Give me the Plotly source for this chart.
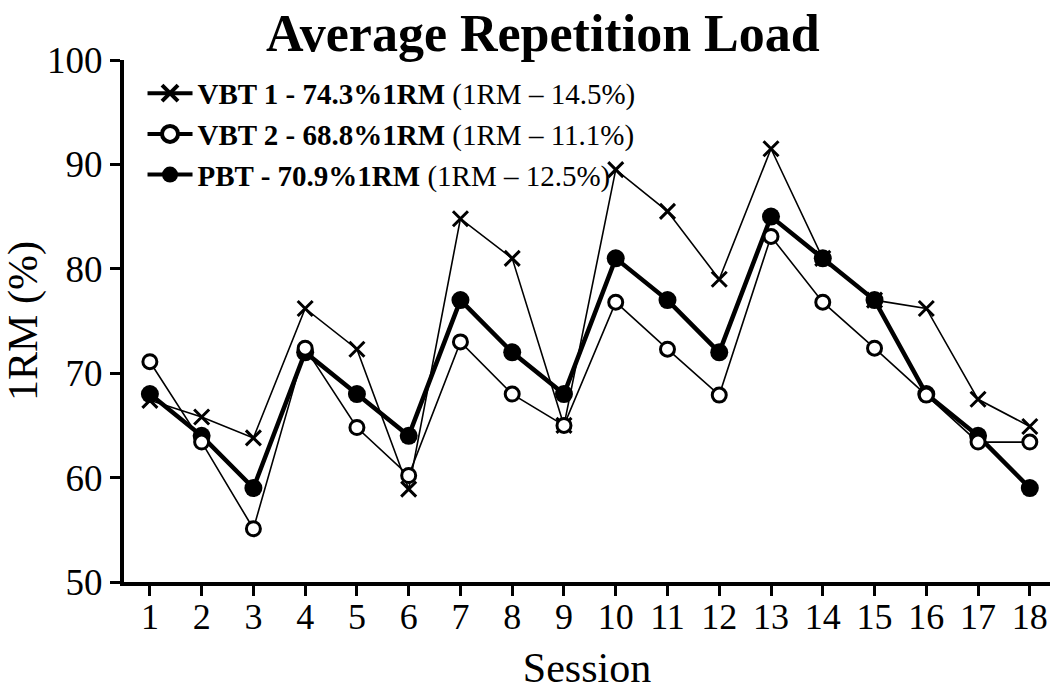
import plotly.graph_objects as go

sessions = list(range(1, 19))
vbt1 = [67.4, 65.8, 63.8, 76.2, 72.3, 58.9, 84.8, 81.0, 65.0, 89.5, 85.5, 79.0, 91.5, 81.0, 77.0, 76.2, 67.5, 64.9]
vbt2 = [71.1, 63.4, 55.1, 72.4, 64.8, 60.2, 73.0, 68.0, 65.0, 76.8, 72.3, 67.9, 83.1, 76.8, 72.4, 67.9, 63.4, 63.4]
pbt = [68.0, 64.0, 59.0, 72.0, 68.0, 64.0, 77.0, 72.0, 68.0, 81.0, 77.0, 72.0, 85.0, 81.0, 77.0, 68.0, 64.0, 59.0]

names = [
    "<b>VBT 1 - 74.3%1RM</b> (1RM – 14.5%)",
    "<b>VBT 2 - 68.8%1RM</b> (1RM – 11.1%)",
    "<b>PBT - 70.9%1RM</b> (1RM – 12.5%)",
]
title = "Average Repetition Load"
y_ticks = [50, 60, 70, 80, 90, 100]

FONT = "Liberation Serif"

fig = go.Figure()
# data traces (legend shown by separate legend-only entries below)
fig.add_trace(go.Scatter(
    x=sessions, y=pbt, name=names[2], mode="lines+markers", showlegend=False,
    line=dict(color="black", width=4.5),
    marker=dict(symbol="circle", size=18, color="black"),
))
fig.add_trace(go.Scatter(
    x=sessions, y=vbt1, name=names[0], mode="lines+markers", showlegend=False,
    line=dict(color="black", width=1.6),
    marker=dict(symbol="x-thin", size=15, line=dict(color="black", width=3)),
))
fig.add_trace(go.Scatter(
    x=sessions, y=vbt2, name=names[1], mode="lines+markers", showlegend=False,
    line=dict(color="black", width=1.6),
    marker=dict(symbol="circle", size=14, color="white", line=dict(color="black", width=3)),
))

# legend entries (larger symbols as in the reference)
fig.add_trace(go.Scatter(
    x=[None], y=[None], name=names[0], mode="lines+markers", legendrank=1,
    line=dict(color="black", width=4),
    marker=dict(symbol="x-thin", size=16, line=dict(color="black", width=4)),
))
fig.add_trace(go.Scatter(
    x=[None], y=[None], name=names[1], mode="lines+markers", legendrank=2,
    line=dict(color="black", width=4),
    marker=dict(symbol="circle", size=16, color="white", line=dict(color="black", width=4)),
))
fig.add_trace(go.Scatter(
    x=[None], y=[None], name=names[2], mode="lines+markers", legendrank=3,
    line=dict(color="black", width=4),
    marker=dict(symbol="circle", size=16, color="black"),
))

fig.update_layout(
    width=1050, height=691,
    margin=dict(l=124, r=0, t=60, b=109),
    paper_bgcolor="white", plot_bgcolor="white",
    font=dict(family=FONT, color="black"),
    title=dict(text="<b>" + title + "</b>", x=0.517, xanchor="center", xref="container",
               y=0.952, yanchor="middle", yref="container", font=dict(size=52, family=FONT)),
    showlegend=True,
    legend=dict(x=0.02, y=0.985, xanchor="left", yanchor="top", bgcolor="rgba(0,0,0,0)",
                font=dict(size=29, family=FONT), itemwidth=45, tracegroupgap=0),
    xaxis=dict(
        range=[0.5, 18.39], tickmode="array", tickvals=sessions,
        ticktext=[str(s) for s in sessions], automargin=False,
        showgrid=False, zeroline=False, showline=True, linecolor="black", linewidth=4,
        ticks="outside", ticklen=10, tickwidth=3, tickcolor="black",
        tickfont=dict(size=36, family=FONT), ticklabelstandoff=-10,
        title=dict(text="Session", font=dict(size=42, family=FONT), standoff=32),
    ),
    yaxis=dict(
        range=[50, 100], tickmode="array", tickvals=y_ticks, automargin=False,
        showgrid=False, zeroline=False, showline=True, linecolor="black", linewidth=4,
        ticks="outside", ticklen=10, tickwidth=3, tickcolor="black",
        tickfont=dict(size=37, family=FONT),
        title=dict(text="1RM (%)", font=dict(size=42, family=FONT), standoff=12),
    ),
)

fig.write_html("out.html", config={"displayModeBar": False},
               post_script="document.body.style.margin='0';document.body.style.overflow='hidden';")
